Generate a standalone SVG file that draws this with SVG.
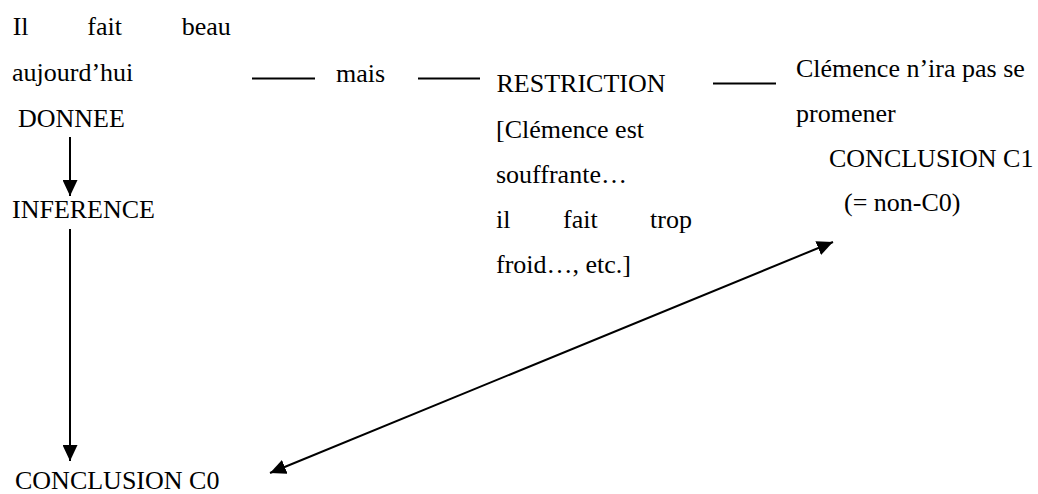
<svg xmlns="http://www.w3.org/2000/svg" width="1038" height="494" viewBox="0 0 1038 494">
  <style>
    text { font-family: "Liberation Serif", "Times New Roman", serif; font-size: 26px; fill: #000; }
    .link { stroke: #000; stroke-width: 2; fill: none; }
    .dash { stroke: #000; stroke-width: 2; }
  </style>
  <defs>
    <marker id="head" viewBox="0 0 16 15" refX="16" refY="7.5" markerWidth="16" markerHeight="15" markerUnits="userSpaceOnUse" orient="auto-start-reverse">
      <path d="M0,0 L16,7.5 L0,15 z" fill="#000"/>
    </marker>
  </defs>

  <rect width="1038" height="494" fill="#fff"/>

  <!-- premise -->
  <g id="donnee">
    <text x="12.7" y="35">Il</text>
    <text x="87.3" y="35">fait</text>
    <text x="181.7" y="35">beau</text>
    <text x="12" y="81">aujourd’hui</text>
    <text x="18" y="127">DONNEE</text>
  </g>

  <g id="inference">
    <text x="12" y="218">INFERENCE</text>
  </g>

  <g id="conclusion-c0">
    <text x="15" y="489">CONCLUSION C0</text>
  </g>

  <g id="mais">
    <text x="336" y="82">mais</text>
  </g>

  <!-- restriction block -->
  <g id="restriction">
    <text x="496.5" y="92">RESTRICTION</text>
    <text x="496" y="138">[Clémence est</text>
    <text x="496" y="183">souffrante…</text>
    <text x="496" y="228">il</text>
    <text x="563" y="228">fait</text>
    <text x="650" y="228">trop</text>
    <text x="496" y="273">froid…, etc.]</text>
  </g>

  <!-- opposite conclusion -->
  <g id="conclusion-c1">
    <text x="796" y="77">Clémence n’ira pas se</text>
    <text x="796" y="122">promener</text>
    <text x="829" y="167">CONCLUSION C1</text>
    <text x="844" y="211">(= non-C0)</text>
  </g>

  <g id="connectors">
    <line class="dash" x1="252" y1="78.5" x2="315" y2="78.5"/>
    <line class="dash" x1="418" y1="78.5" x2="480" y2="78.5"/>
    <line class="dash" x1="713" y1="83.5" x2="776" y2="83.5"/>
    <line class="link" x1="70" y1="137" x2="70" y2="196" marker-end="url(#head)"/>
    <line class="link" x1="70" y1="229" x2="70" y2="461" marker-end="url(#head)"/>
    <line class="link" x1="270" y1="473" x2="833" y2="242" marker-start="url(#head)" marker-end="url(#head)"/>
  </g>
</svg>
